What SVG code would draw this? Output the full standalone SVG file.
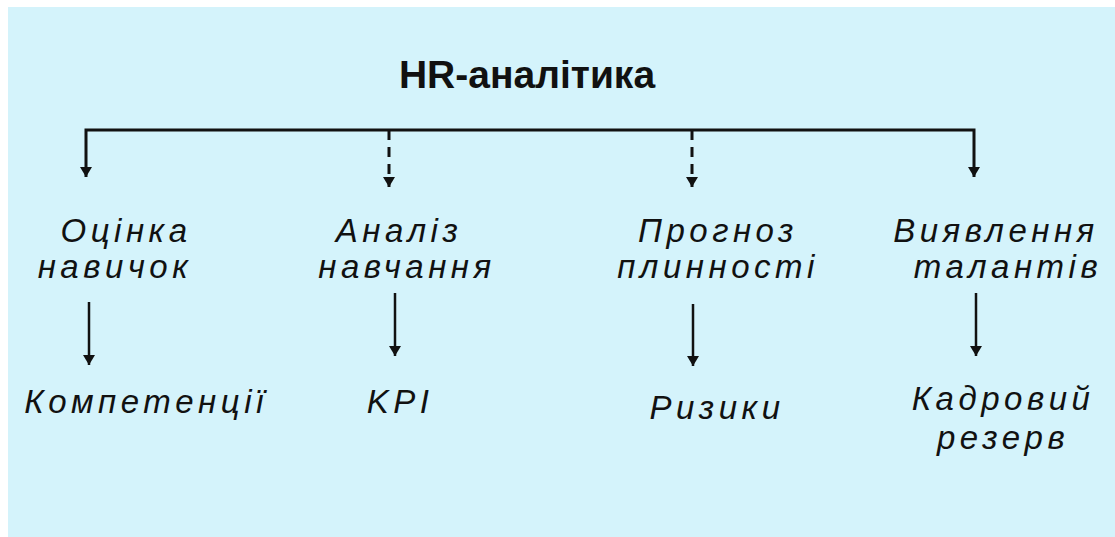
<svg xmlns="http://www.w3.org/2000/svg" width="1115" height="537" viewBox="0 0 1115 537">
<style>
.lbl{font-family:"Liberation Sans",Arial,sans-serif;font-style:italic;font-size:33px;letter-spacing:4.5px;fill:#111;text-anchor:middle}
.ttl{font-family:"Liberation Sans",Arial,sans-serif;font-weight:bold;font-size:39px;fill:#111;text-anchor:middle}
.ln{stroke:#111;stroke-width:3;fill:none}
.dl{stroke:#111;stroke-width:3;fill:none;stroke-dasharray:10 7}
.thin{stroke:#111;stroke-width:2.5;fill:none}
</style>
<defs>
<marker id="ah" viewBox="0 0 10 12" refX="10" refY="6" markerWidth="10" markerHeight="12" markerUnits="userSpaceOnUse" orient="auto">
<path d="M0,0 L10,6 L0,12 Z" fill="#111"/>
</marker>
</defs>
<rect x="8" y="7" width="1107" height="530" fill="#d4f3fb"/>
<g id="title"><text class="ttl" x="527" y="88">HR-аналітика</text></g>
<g id="connectors">
<path class="ln" d="M86,170 L86,130 L974,130 L974,170" />
<path class="ln" d="M86,168 L86,177" marker-end="url(#ah)"/>
<path class="ln" d="M974,168 L974,177" marker-end="url(#ah)"/>
<path class="dl" d="M389,130 L389,180" />
<path class="ln" d="M389,178 L389,187" marker-end="url(#ah)"/>
<path class="dl" d="M692,130 L692,180" />
<path class="ln" d="M692,178 L692,187" marker-end="url(#ah)"/>
<path class="thin" d="M89,302 L89,365" marker-end="url(#ah)"/>
<path class="thin" d="M395,293 L395,356" marker-end="url(#ah)"/>
<path class="thin" d="M693,304 L693,366" marker-end="url(#ah)"/>
<path class="thin" d="M976,293 L976,356" marker-end="url(#ah)"/>
</g>
<g id="n1"><text class="lbl" x="126" y="242">Оцінка</text><text class="lbl" x="115" y="278">навичок</text></g>
<g id="n2"><text class="lbl" x="399" y="242">Аналіз</text><text class="lbl" x="407" y="278">навчання</text></g>
<g id="n3"><text class="lbl" x="718" y="242">Прогноз</text><text class="lbl" x="718" y="278">плинності</text></g>
<g id="n4"><text class="lbl" x="996" y="242">Виявлення</text><text class="lbl" x="1008" y="278">талантів</text></g>
<g id="c1"><text class="lbl" x="146" y="413">Компетенції</text></g>
<g id="c2"><text class="lbl" x="400" y="413">KPI</text></g>
<g id="c3"><text class="lbl" x="717" y="419">Ризики</text></g>
<g id="c4"><text class="lbl" x="1003" y="410">Кадровий</text><text class="lbl" x="1003" y="449">резерв</text></g>
</svg>
